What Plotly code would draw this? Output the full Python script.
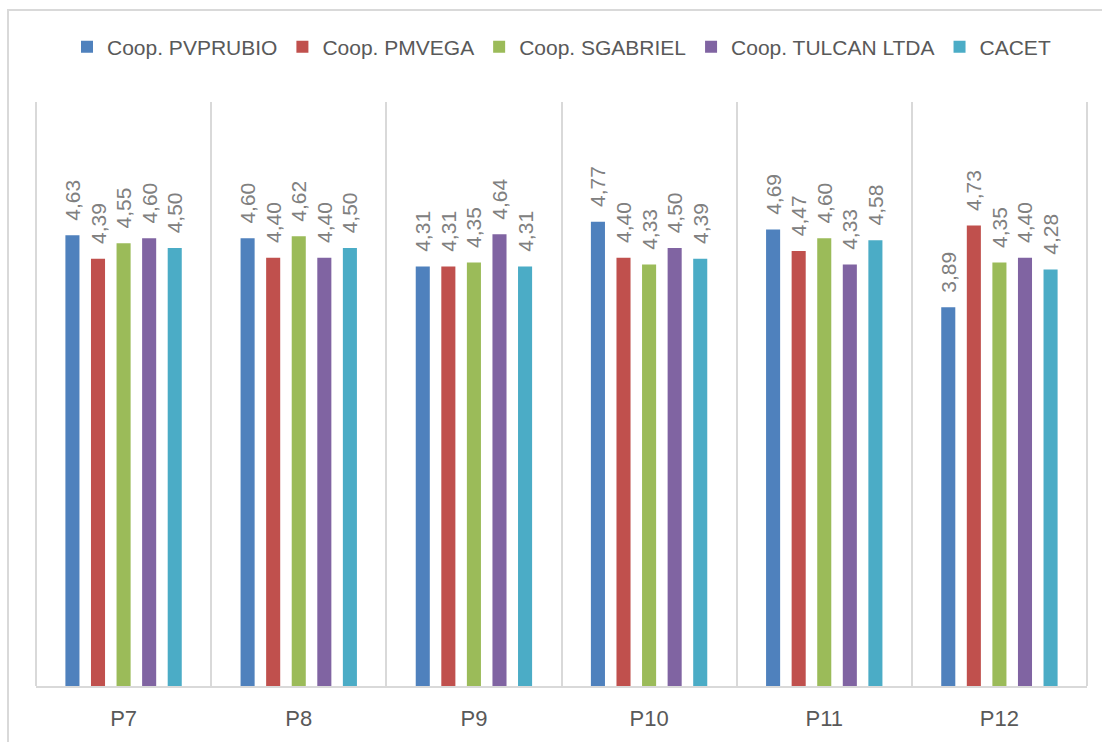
import plotly.graph_objects as go

categories = ["P7", "P8", "P9", "P10", "P11", "P12"]
series_names = ["Coop. PVPRUBIO", "Coop. PMVEGA", "Coop. SGABRIEL", "Coop. TULCAN LTDA", "CACET"]
pvprubio = [4.63, 4.60, 4.31, 4.77, 4.69, 3.89]
pmvega = [4.39, 4.40, 4.31, 4.40, 4.47, 4.73]
sgabriel = [4.55, 4.62, 4.35, 4.33, 4.60, 4.35]
tulcan = [4.60, 4.40, 4.64, 4.50, 4.33, 4.40]
cacet = [4.50, 4.50, 4.31, 4.39, 4.58, 4.28]
colors = ["#4F81BD", "#C0504D", "#9BBB59", "#8064A2", "#4BACC6"]

FONT = "Liberation Sans Narrow, Arial Narrow, Liberation Sans, Arial, sans-serif"

fig = go.Figure()
for name, vals, col in zip(series_names, [pvprubio, pmvega, sgabriel, tulcan, cacet], colors):
    fig.add_trace(go.Bar(
        x=categories, y=vals, name=name,
        marker=dict(color=col, line=dict(width=0)),
        texttemplate="\u00a0\u00a0%{y:.2f}", textposition="outside", textangle=-90,
        constraintext="none",
        textfont=dict(family=FONT, size=21, color="#808080"),
        cliponaxis=False,
    ))

W, H = 1102, 742
L, R, T, B = 36, 15, 102, 56
pw, ph = W - L - R, H - T - B

def px_x(p):
    return (p - L) / pw

def px_y(p):
    return (H - B - p) / ph

fig.update_layout(
    width=W, height=H,
    margin=dict(l=L, r=R, t=T, b=B, pad=0),
    paper_bgcolor="white", plot_bgcolor="white",
    separators=",.",
    barmode="group", bargap=0.27, bargroupgap=0.45,
    showlegend=True,
    legend=dict(orientation="h", x=0.5, xanchor="center", y=px_y(47), yanchor="middle",
                font=dict(family=FONT, size=21, color="#595959"),
                itemwidth=30, traceorder="normal"),
    xaxis=dict(type="category", tickson="boundaries", showgrid=True, gridcolor="#D9D9D9", gridwidth=2,
               ticks="", showline=True, linecolor="#D9D9D9", linewidth=2,
               tickfont=dict(family=FONT, size=22, color="#595959"), ticklabelstandoff=12),
    yaxis=dict(range=[0, 6], showgrid=False, showticklabels=False, zeroline=False, showline=False),
    shapes=[
        dict(type="rect", xref="paper", yref="paper",
             x0=px_x(8), x1=px_x(1110), y0=px_y(750), y1=px_y(10),
             line=dict(color="#D9D9D9", width=2), fillcolor="rgba(0,0,0,0)", layer="below"),
        dict(type="line", xref="paper", yref="paper", x0=1, x1=1, y0=0, y1=1,
             line=dict(color="#D9D9D9", width=2)),
        dict(type="line", xref="paper", yref="paper", x0=0, x1=0, y0=0, y1=1,
             line=dict(color="#D9D9D9", width=2)),
    ],
)

fig.write_html("out.html")
